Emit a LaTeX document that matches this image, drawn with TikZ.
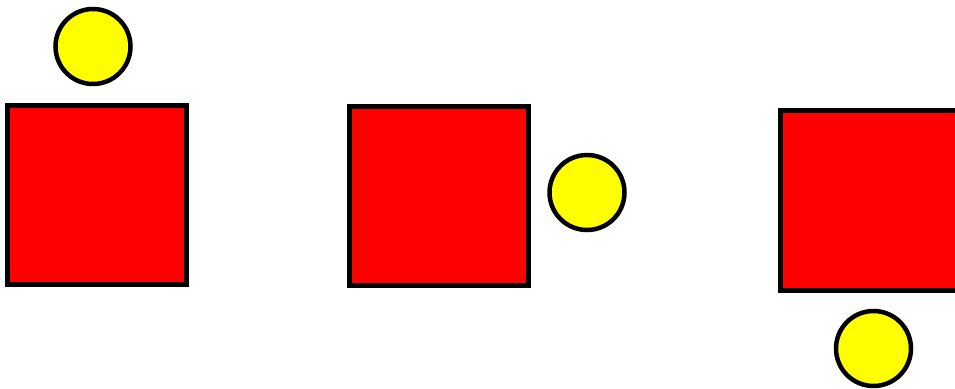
\documentclass[tikz,border=0pt]{standalone}
\definecolor{sqred}{RGB}{255,0,0}
\definecolor{ballyellow}{RGB}{255,255,0}
\begin{document}
\begin{tikzpicture}[x=1pt,y=-1pt,
  sq/.style={draw=black,fill=sqred,line width=5pt,minimum size=179pt,inner sep=0pt,outer sep=0pt,shape=rectangle},
  ball/.style={draw=black,fill=ballyellow,line width=4.5pt,circle,minimum size=75pt,inner sep=0pt}]
\clip (0,0) rectangle (955,388);
\useasboundingbox (0,0) rectangle (955,388);
\node[sq] (s1) at (97,195) {};
\node[ball] (c1) at (93,46.5) {};
\node[sq] (s2) at (438.5,195.5) {};
\node[ball] (c2) at (587,192.5) {};
\node[sq,minimum height=180pt,minimum width=180pt] (s3) at (870.5,200.5) {};
\node[ball] (c3) at (873.5,348.5) {};
\end{tikzpicture}
\end{document}
